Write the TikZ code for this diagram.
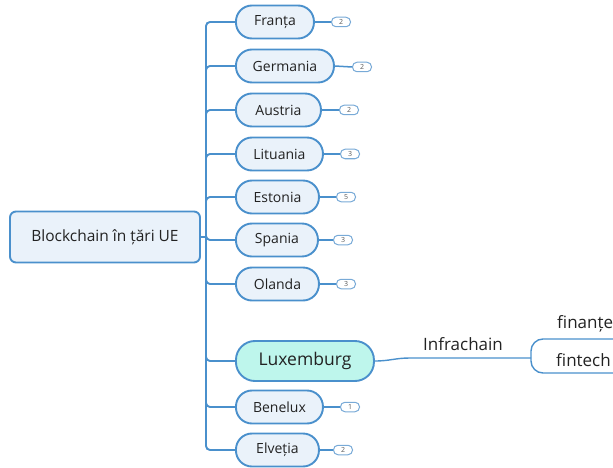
\documentclass[tikz,border=0pt]{standalone}
\usepackage{fontspec}
\setmainfont{Open Sans}
\usetikzlibrary{positioning}
\definecolor{edge}{RGB}{74,144,204}
\definecolor{topicfill}{RGB}{234,242,250}
\definecolor{luxfill}{RGB}{190,246,236}
\definecolor{ink}{RGB}{34,34,34}
\definecolor{badgeedge}{RGB}{120,170,215}
\tikzset{
  conn/.style={draw=edge, line width=1.9pt},
  rootbox/.style={draw=edge, fill=topicfill, line width=1.9pt, rounded corners=6pt,
    minimum width=190pt, minimum height=51pt, text=ink, font=\fontsize{15.5}{17}\selectfont},
  topic/.style={draw=edge, fill=topicfill, line width=1.9pt, rounded corners=16pt,
    minimum height=33pt, inner sep=0pt, anchor=west, text=ink, font=\fontsize{14}{16}\selectfont},
  bigtopic/.style={topic, fill=luxfill, rounded corners=19pt, minimum height=40pt,
    font=\fontsize{17.5}{19}\selectfont},
  badge/.style={draw=badgeedge, fill=white, line width=1pt, rounded corners=4.5pt,
    minimum width=19pt, minimum height=9.5pt, inner sep=0pt, anchor=west, text=black!65,
    font=\fontsize{7}{7}\selectfont},
  plain/.style={text=ink, inner sep=0pt, anchor=base west, font=\fontsize{17}{19}\selectfont},
}
\begin{document}
\begin{tikzpicture}[x=1pt,y=-1pt]
\useasboundingbox (0,0) rectangle (613,468);

\node[rootbox] (root) at (105,237) {Blockchain în țări UE};

% country topics
\node[topic, minimum width=78pt] (fr) at (235,22) {Franța};
\node[topic, minimum width=98pt] (de) at (235,66) {Germania};
\node[topic, minimum width=85pt] (at) at (235,110) {Austria};
\node[topic, minimum width=87pt] (lt) at (235,154) {Lituania};
\node[topic, minimum width=83pt] (ee) at (235,197) {Estonia};
\node[topic, minimum width=82pt] (es) at (235,240) {Spania};
\node[topic, minimum width=83pt] (nl) at (235,284) {Olanda};
\node[bigtopic, minimum width=138pt] (lu) at (235,361) {Luxemburg};
\node[topic, minimum width=87pt] (bx) at (235,407) {Benelux};
\node[topic, minimum width=83pt] (ch) at (235,450) {Elveția};

% child-count badges
\node[badge] (bfr) at (331,22) {2};
\node[badge] (bde) at (352,67) {2};
\node[badge] (bat) at (339,110) {2};
\node[badge] (blt) at (340,154) {3};
\node[badge] (bee) at (336,197) {5};
\node[badge] (bes) at (333,240) {3};
\node[badge] (bnl) at (336,284) {3};
\node[badge] (bbx) at (340,407) {1};
\node[badge] (bch) at (333,450) {2};

% trunk and branches
\coordinate (trunk) at (206,237);
\draw[conn] (root.east) -- (trunk);
\foreach \c in {fr,de,at,lt,ee,es,nl,lu,bx,ch}
  \draw[conn, rounded corners=4pt] (trunk) |- (\c.west);

\foreach \c/\b in {fr/bfr,de/bde,at/bat,lt/blt,ee/bee,es/bes,nl/bnl,bx/bbx,ch/bch}
  \draw[conn, line width=1.5pt] (\c.east) -- (\b.west);

% Infrachain branch
\node[plain] (infra) at (423,350) {Infrachain};
\coordinate (fork) at (531,358);
\draw[conn, line width=1.4pt] (lu.east) .. controls (390,361) and (395,358) .. (410,358) -- (fork);
\node[plain] (fin) at (557,328) {finanțe};
\node[plain] (tech) at (556,366) {fintech};
\coordinate (fintop) at (620,339);
\coordinate (finbot) at (620,373);
\draw[conn, line width=1.4pt, rounded corners=12pt] (fintop) -- (531,339) -- (531,373) -- (finbot);
\end{tikzpicture}
\end{document}
